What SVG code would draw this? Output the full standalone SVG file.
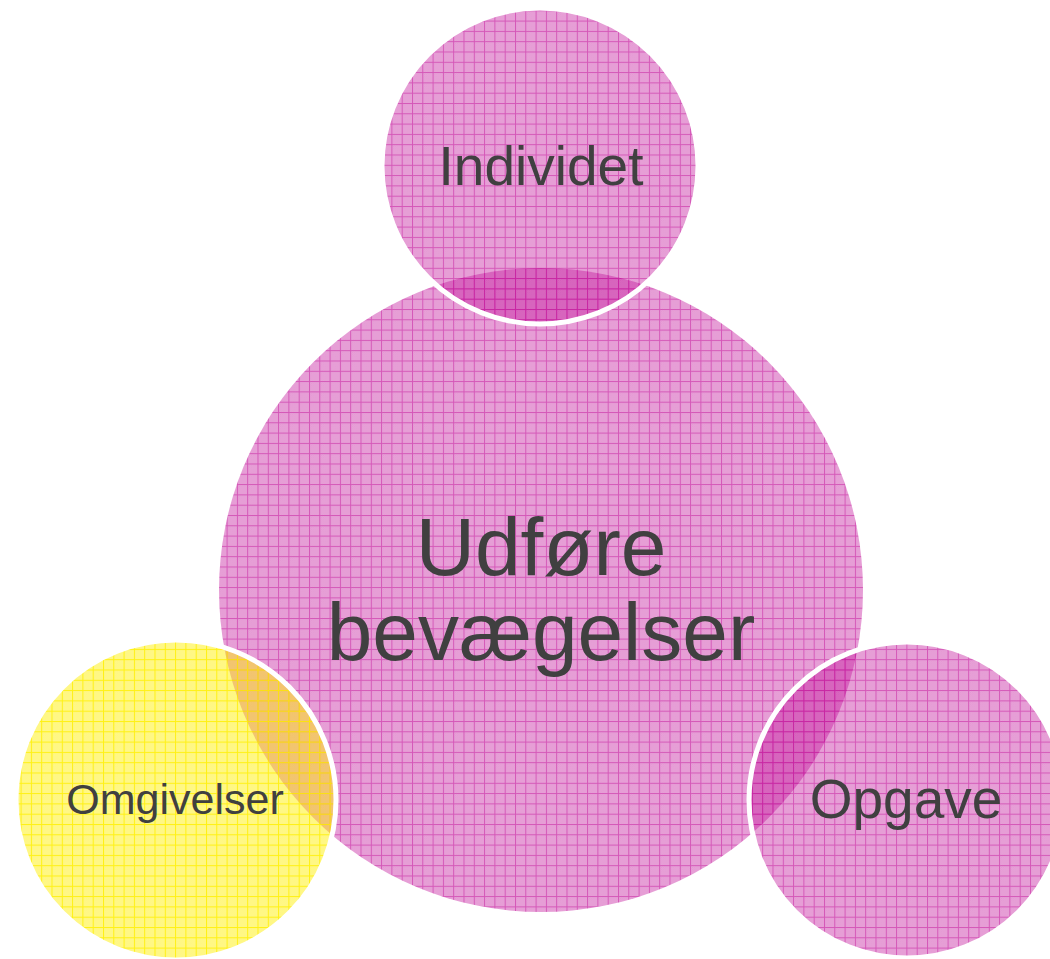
<svg xmlns="http://www.w3.org/2000/svg" width="1050" height="959" viewBox="0 0 1050 959">
<style>
.lbl{font-family:"Liberation Sans",Arial,sans-serif;fill:#404040;text-anchor:middle}
.pink{fill:url(#pinkGrid)}
.yel{fill:url(#yelGrid)}
.sm{stroke:#ffffff;stroke-width:5}
</style>
<defs>
<pattern id="pinkChk" patternUnits="userSpaceOnUse" x="0" y="0" width="2" height="2">
<rect width="2" height="2" fill="#c4129a" fill-opacity="0.38"/>
<rect width="1" height="1" fill="#c4129a" fill-opacity="0.1"/>
<rect x="1" y="1" width="1" height="1" fill="#c4129a" fill-opacity="0.1"/>
</pattern>
<pattern id="pinkGrid" patternUnits="userSpaceOnUse" x="0" y="0" width="10.3" height="10.3">
<rect width="10.3" height="10.3" fill="url(#pinkChk)"/>
<rect x="0" y="0" width="1" height="10.3" fill="#c4129a" fill-opacity="0.5"/>
<rect x="1" y="0" width="9.3" height="1" fill="#c4129a" fill-opacity="0.5"/>
</pattern>
<pattern id="yelChk" patternUnits="userSpaceOnUse" x="0" y="0" width="2" height="2">
<rect width="2" height="2" fill="#ffee00" fill-opacity="0.46"/>
<rect width="1" height="1" fill="#ffee00" fill-opacity="0.08"/>
<rect x="1" y="1" width="1" height="1" fill="#ffee00" fill-opacity="0.08"/>
</pattern>
<pattern id="yelGrid" patternUnits="userSpaceOnUse" x="0" y="0" width="10.3" height="10.3">
<rect width="10.3" height="10.3" fill="url(#yelChk)"/>
<rect x="0" y="0" width="1" height="10.3" fill="#fff000" fill-opacity="0.85"/>
<rect x="1" y="0" width="9.3" height="1" fill="#fff000" fill-opacity="0.85"/>
</pattern>
</defs>
<g id="connectors"></g>
<g id="node-main">
<circle class="pink" cx="541" cy="590" r="322"/>
</g>
<g id="node-individet">
<circle class="pink sm" cx="540" cy="166" r="158"/>
<text class="lbl" x="541" y="185" font-size="55">Individet</text>
</g>
<g id="node-omgivelser">
<circle class="yel sm" cx="176" cy="800" r="160"/>
<text class="lbl" x="175" y="814" font-size="43">Omgivelser</text>
</g>
<g id="node-opgave">
<circle class="pink sm" cx="907" cy="800" r="158"/>
<text class="lbl" x="906" y="818" font-size="55">Opgave</text>
</g>
<g id="main-label">
<text class="lbl" x="541" y="575" font-size="82">Udføre</text>
<text class="lbl" x="541" y="660" font-size="82">bevægelser</text>
</g>
</svg>
